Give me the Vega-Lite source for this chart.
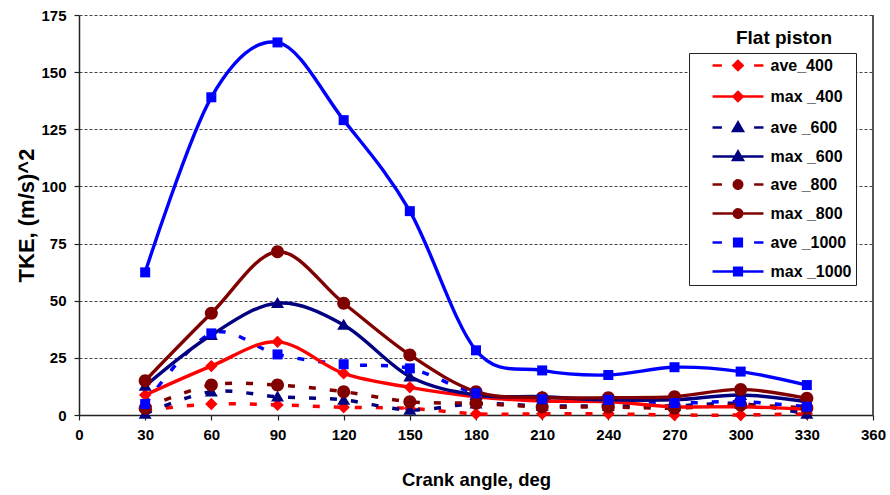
{
  "$schema": "https://vega.github.io/schema/vega-lite/v6.json",
  "width": 794,
  "height": 400,
  "autosize": "none",
  "padding": {"left": 79, "top": 15, "right": 17, "bottom": 80},
  "background": "white",
  "config": {"view": {"stroke": null}, "font": "Liberation Sans"},
  "title": {"text": "Flat piston", "anchor": "end", "frame": "group", "orient": "top", "offset": -40, "dx": -41, "fontSize": 19, "fontWeight": "bold", "font": "Liberation Sans", "color": "black"},
  "data": {"values": [
    {"angle": 30, "series": "ave_400", "tke": 2}, {"angle": 60, "series": "ave_400", "tke": 4.8}, {"angle": 90, "series": "ave_400", "tke": 4.4}, {"angle": 120, "series": "ave_400", "tke": 3.4}, {"angle": 150, "series": "ave_400", "tke": 2.9}, {"angle": 180, "series": "ave_400", "tke": 0.5}, {"angle": 210, "series": "ave_400", "tke": 0.5}, {"angle": 240, "series": "ave_400", "tke": 0.5}, {"angle": 270, "series": "ave_400", "tke": 0}, {"angle": 300, "series": "ave_400", "tke": 0}, {"angle": 330, "series": "ave_400", "tke": 0.5},
    {"angle": 30, "series": "max _400", "tke": 8.75}, {"angle": 60, "series": "max _400", "tke": 21.4}, {"angle": 90, "series": "max _400", "tke": 32}, {"angle": 120, "series": "max _400", "tke": 18.2}, {"angle": 150, "series": "max _400", "tke": 12.1}, {"angle": 180, "series": "max _400", "tke": 8}, {"angle": 210, "series": "max _400", "tke": 6.1}, {"angle": 240, "series": "max _400", "tke": 5.8}, {"angle": 270, "series": "max _400", "tke": 3.6}, {"angle": 300, "series": "max _400", "tke": 3.6}, {"angle": 330, "series": "max _400", "tke": 2.5},
    {"angle": 30, "series": "ave _600", "tke": 0.5}, {"angle": 60, "series": "ave _600", "tke": 10.2}, {"angle": 90, "series": "ave _600", "tke": 8}, {"angle": 120, "series": "ave _600", "tke": 6.6}, {"angle": 150, "series": "ave _600", "tke": 2.2}, {"angle": 180, "series": "ave _600", "tke": 5}, {"angle": 210, "series": "ave _600", "tke": 4}, {"angle": 240, "series": "ave _600", "tke": 4}, {"angle": 270, "series": "ave _600", "tke": 4}, {"angle": 300, "series": "ave _600", "tke": 5}, {"angle": 330, "series": "ave _600", "tke": 0.5},
    {"angle": 30, "series": "max _600", "tke": 12.7}, {"angle": 60, "series": "max _600", "tke": 35}, {"angle": 90, "series": "max _600", "tke": 48.9}, {"angle": 120, "series": "max _600", "tke": 39.4}, {"angle": 150, "series": "max _600", "tke": 16.8}, {"angle": 180, "series": "max _600", "tke": 8.75}, {"angle": 210, "series": "max _600", "tke": 8}, {"angle": 240, "series": "max _600", "tke": 6.6}, {"angle": 270, "series": "max _600", "tke": 6.6}, {"angle": 300, "series": "max _600", "tke": 8.75}, {"angle": 330, "series": "max _600", "tke": 5.8},
    {"angle": 30, "series": "ave _800", "tke": 3}, {"angle": 60, "series": "ave _800", "tke": 13.1}, {"angle": 90, "series": "ave _800", "tke": 13.1}, {"angle": 120, "series": "ave _800", "tke": 10.2}, {"angle": 150, "series": "ave _800", "tke": 5.8}, {"angle": 180, "series": "ave _800", "tke": 5.1}, {"angle": 210, "series": "ave _800", "tke": 3.5}, {"angle": 240, "series": "ave _800", "tke": 3.5}, {"angle": 270, "series": "ave _800", "tke": 3}, {"angle": 300, "series": "ave _800", "tke": 4.4}, {"angle": 330, "series": "ave _800", "tke": 3},
    {"angle": 30, "series": "max _800", "tke": 15}, {"angle": 60, "series": "max _800", "tke": 44.5}, {"angle": 90, "series": "max _800", "tke": 71.4}, {"angle": 120, "series": "max _800", "tke": 48.9}, {"angle": 150, "series": "max _800", "tke": 26.3}, {"angle": 180, "series": "max _800", "tke": 10.2}, {"angle": 210, "series": "max _800", "tke": 7.6}, {"angle": 240, "series": "max _800", "tke": 7.6}, {"angle": 270, "series": "max _800", "tke": 8}, {"angle": 300, "series": "max _800", "tke": 11.2}, {"angle": 330, "series": "max _800", "tke": 7.3},
    {"angle": 30, "series": "ave _1000", "tke": 4.8}, {"angle": 60, "series": "ave _1000", "tke": 35.7}, {"angle": 90, "series": "ave _1000", "tke": 26.5}, {"angle": 120, "series": "ave _1000", "tke": 22.2}, {"angle": 150, "series": "ave _1000", "tke": 20.4}, {"angle": 180, "series": "ave _1000", "tke": 9.5}, {"angle": 210, "series": "ave _1000", "tke": 6.9}, {"angle": 240, "series": "ave _1000", "tke": 6.6}, {"angle": 270, "series": "ave _1000", "tke": 5.25}, {"angle": 300, "series": "ave _1000", "tke": 5.8}, {"angle": 330, "series": "ave _1000", "tke": 3.6},
    {"angle": 30, "series": "max _1000", "tke": 62.4}, {"angle": 60, "series": "max _1000", "tke": 139}, {"angle": 90, "series": "max _1000", "tke": 163}, {"angle": 120, "series": "max _1000", "tke": 129}, {"angle": 150, "series": "max _1000", "tke": 89.2}, {"angle": 180, "series": "max _1000", "tke": 28.3}, {"angle": 210, "series": "max _1000", "tke": 19.5}, {"angle": 240, "series": "max _1000", "tke": 17.5}, {"angle": 270, "series": "max _1000", "tke": 20.9}, {"angle": 300, "series": "max _1000", "tke": 19}, {"angle": 330, "series": "max _1000", "tke": 13.1}
  ]},
  "encoding": {
    "x": {"field": "angle", "type": "quantitative", "scale": {"domain": [0, 360], "nice": false, "zero": false},
      "axis": {"title": "Crank angle, deg", "values": [0, 30, 60, 90, 120, 150, 180, 210, 240, 270, 300, 330, 360], "grid": false, "labelFontSize": 15, "labelFontWeight": "bold", "labelColor": "black", "labelFlush": false, "titleFontSize": 18.5, "titleFontWeight": "bold", "titleColor": "black", "domainColor": "#222", "domainWidth": 1.5, "tickColor": "#222", "tickSize": 5, "tickWidth": 1.2, "labelPadding": 7, "titlePadding": 28}},
    "y": {"field": "tke", "type": "quantitative", "scale": {"domain": [0, 175], "nice": false},
      "axis": {"title": "TKE, (m/s)^2", "values": [0, 25, 50, 75, 100, 125, 150, 175], "grid": true, "gridDash": [3, 2], "gridColor": "#444", "gridWidth": 1, "labelFontSize": 15, "labelFontWeight": "bold", "labelColor": "black", "titleFontSize": 22, "titleFontWeight": "bold", "titleColor": "black", "domainColor": "#222", "domainWidth": 1.5, "tickColor": "#222", "tickSize": 5, "tickWidth": 1.2, "labelPadding": 8, "titlePadding": 2}}
  },
  "layer": [
    {
      "mark": {"type": "rule", "color": "#555", "strokeWidth": 1.2},
      "encoding": {"x": {"datum": 360}, "y": null}
    },
    {
      "transform": [{"filter": "indexof(datum.series, 'ave') == 0"}],
      "mark": {"type": "line", "interpolate": "cardinal", "strokeWidth": 3.5, "strokeDash": [7, 14]},
      "encoding": {
        "color": {"field": "series", "type": "nominal",
          "scale": {"domain": ["ave_400", "max _400", "ave _600", "max _600", "ave _800", "max _800", "ave _1000", "max _1000"], "range": ["#ff0000", "#ff0000", "#000080", "#000080", "#800000", "#800000", "#0000ff", "#0000ff"]},
          "legend": {
            "title": null, "orient": "none", "legendX": 610, "legendY": 38,
            "strokeColor": "#222", "padding": 4, "fillColor": "white",
            "symbolSize": 196, "symbolStrokeWidth": 2.5, "symbolOffset": 36.5, "labelOffset": 24,
            "rowPadding": 10, "labelFontSize": 16, "labelFontWeight": "bold", "labelColor": "black", "labelFont": "Liberation Sans",
            "encode": {"symbols": {"update": {
              "shape": {"signal": "['M-3.64,0H-2.3M2.3,0H3.64M0,-0.65L0.65,0L0,0.65L-0.65,0Z','M-3.64,0H3.64M0,-0.65L0.65,0L0,0.65L-0.65,0Z','M-3.64,0H-2.3M2.3,0H3.64M0,-0.7L0.7,0.5L-0.7,0.5Z','M-3.64,0H3.64M0,-0.7L0.7,0.5L-0.7,0.5Z','M-3.64,0H-2.3M2.3,0H3.64M0.6,0A0.6,0.6,0,1,1,-0.6,0A0.6,0.6,0,1,1,0.6,0Z','M-3.64,0H3.64M0.6,0A0.6,0.6,0,1,1,-0.6,0A0.6,0.6,0,1,1,0.6,0Z','M-3.64,0H-2.3M2.3,0H3.64M-0.55,-0.55H0.55V0.55H-0.55Z','M-3.64,0H3.64M-0.55,-0.55H0.55V0.55H-0.55Z'][indexof(['ave_400','max _400','ave _600','max _600','ave _800','max _800','ave _1000','max _1000'], datum.value)]"},
              "fill": {"signal": "['#ff0000','#ff0000','#000080','#000080','#800000','#800000','#0000ff','#0000ff'][indexof(['ave_400','max _400','ave _600','max _600','ave _800','max _800','ave _1000','max _1000'], datum.value)]"},
              "stroke": {"signal": "['#ff0000','#ff0000','#000080','#000080','#800000','#800000','#0000ff','#0000ff'][indexof(['ave_400','max _400','ave _600','max _600','ave _800','max _800','ave _1000','max _1000'], datum.value)]"},
              "strokeWidth": {"value": 2.5},
              "strokeDash": {"value": [1, 0]},
              "opacity": {"value": 1},
              "fillOpacity": {"value": 1},
              "strokeOpacity": {"value": 1},
              "size": {"value": 196}
            }}}
          }}
      }
    },
    {
      "transform": [{"filter": "indexof(datum.series, 'max') == 0"}],
      "mark": {"type": "line", "interpolate": "cardinal", "strokeWidth": 3.4},
      "encoding": {
        "color": {"field": "series", "type": "nominal",
          "scale": {"domain": ["ave_400", "max _400", "ave _600", "max _600", "ave _800", "max _800", "ave _1000", "max _1000"], "range": ["#ff0000", "#ff0000", "#000080", "#000080", "#800000", "#800000", "#0000ff", "#0000ff"]}}
      }
    },
    {
      "mark": {"type": "point", "filled": true, "size": 169, "opacity": 1, "strokeWidth": 0},
      "encoding": {
        "fill": {"field": "series", "type": "nominal",
          "scale": {"domain": ["max _1000", "ave _1000", "max _800", "ave _800", "max _600", "ave _600", "max _400", "ave_400"], "range": ["#0000ff", "#0000ff", "#800000", "#800000", "#000080", "#000080", "#ff0000", "#ff0000"]},
          "legend": null},
        "shape": {"field": "series", "type": "nominal",
          "scale": {"domain": ["max _1000", "ave _1000", "max _800", "ave _800", "max _600", "ave _600", "max _400", "ave_400"],
            "range": ["M-0.77,-0.77H0.77V0.77H-0.77Z", "M-0.77,-0.77H0.77V0.77H-0.77Z", "M1,0A1,1,0,1,1,-1,0A1,1,0,1,1,1,0Z", "M1,0A1,1,0,1,1,-1,0A1,1,0,1,1,1,0Z", "M0,-0.95L1,0.75L-1,0.75Z", "M0,-0.95L1,0.75L-1,0.75Z", "M0,-0.95L0.95,0L0,0.95L-0.95,0Z", "M0,-0.95L0.95,0L0,0.95L-0.95,0Z"]},
          "legend": null}
      }
    }
  ]
}
